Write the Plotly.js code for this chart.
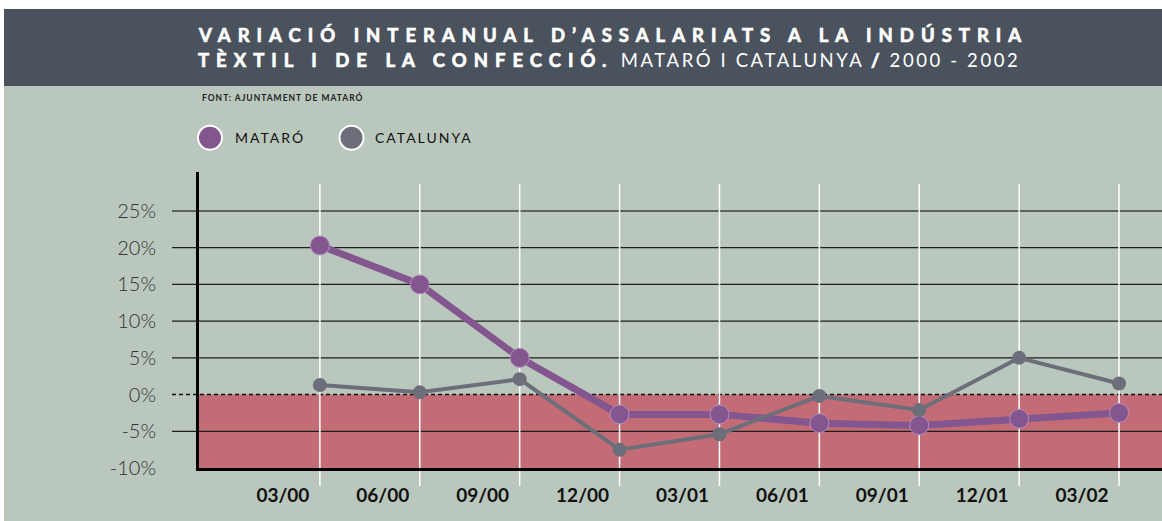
<!DOCTYPE html>
<html>
<head>
<meta charset="utf-8">
<script src="https://cdn.plot.ly/plotly-3.0.1.min.js"></script>
<style>
  html, body { margin: 0; padding: 0; background: #ffffff; }
  #chart { width: 1162px; height: 521px; }
</style>
</head>
<body>
<div id="chart"></div>
<script>
// ---- data ----
const dates = ['03/00', '06/00', '09/00', '12/00', '03/01', '06/01', '09/01', '12/01', '03/02'];
const mataro = [20.3, 15.0, 5.0, -2.7, -2.7, -3.9, -4.2, -3.3, -2.5];
const catalunya = [1.3, 0.3, 2.1, -7.5, -5.4, -0.2, -2.1, 5.0, 1.5];
const yTicks = [-10, -5, 0, 5, 10, 15, 20, 25];
const yTickText = ['-10%', '-5%', '0%', '5%', '10%', '15%', '20%', '25%'];
const seriesNames = ['MATARÓ', 'CATALUNYA'];

// ---- layout geometry (pixels) ----
const W = 1162, H = 521;
const M = { l: 199, r: 0, t: 172, b: 53 };
const PW = W - M.l - M.r, PH = H - M.t - M.b;
const px2x = px => (px - M.l) / PW;
const py2y = py => (H - M.b - py) / PH;

const C = {
  sage: '#b9c7bc', header: '#4a535d', red: '#c46c76',
  purple: '#83568f', gray: '#6c6f79', grid: '#1e1e1e'
};

const shapes = [];
// backgrounds
shapes.push({ type: 'rect', xref: 'paper', yref: 'paper', x0: px2x(4), x1: px2x(W), y0: py2y(H), y1: py2y(86), fillcolor: C.sage, line: { width: 0 }, layer: 'below' });
shapes.push({ type: 'rect', xref: 'paper', yref: 'paper', x0: px2x(4), x1: px2x(W), y0: py2y(86), y1: py2y(9), fillcolor: C.header, line: { width: 0 }, layer: 'below' });
// negative zone
shapes.push({ type: 'rect', xref: 'paper', yref: 'y', x0: 0, x1: 1, y0: yTicks[0], y1: 0, fillcolor: C.red, line: { width: 0 }, layer: 'below' });
// horizontal grid lines (extend left of the axis)
yTicks.forEach(v => {
  if (v === 0 || v === yTicks[0]) return;
  shapes.push({ type: 'line', xref: 'paper', yref: 'y', x0: px2x(172), x1: 1, y0: v, y1: v,
    line: { color: v === yTicks[yTicks.length - 1] ? '#3c423d' : C.grid, width: v === yTicks[yTicks.length - 1] ? 1.6 : 1.2 }, layer: 'below' });
});
// dashed zero line
shapes.push({ type: 'line', xref: 'paper', yref: 'y', x0: px2x(172), x1: 1, y0: 0, y1: 0, line: { color: '#111', width: 1.6, dash: '4px,3px' }, layer: 'below' });
// white vertical lines at each period
dates.forEach((d, i) => {
  shapes.push({ type: 'line', xref: 'x', yref: 'paper', x0: i, x1: i, y0: py2y(486), y1: py2y(184), line: { color: '#ffffff', width: 1.5 }, layer: 'below' });
});
// legend circles
[[210, C.purple], [351.5, C.gray]].forEach(([cx, col]) => {
  shapes.push({ type: 'circle', xref: 'paper', yref: 'paper', xsizemode: 'pixel', ysizemode: 'pixel',
    xanchor: px2x(cx), yanchor: py2y(137.7), x0: -12, x1: 12, y0: -12, y1: 12,
    fillcolor: col, line: { color: '#ffffff', width: 2 }, layer: 'above' });
});

const heavy = 'letter-spacing:7px;stroke:#ffffff;stroke-width:0.7px';
const annotations = [
  { xref: 'paper', yref: 'paper', x: px2x(196), y: py2y(35), xanchor: 'left', yanchor: 'middle', showarrow: false,
    text: '<span style="' + heavy + '"><b>VARIACIÓ INTERANUAL D’ASSALARIATS A LA INDÚSTRIA</b></span>',
    font: { family: 'Lato, "Open Sans", sans-serif', size: 18.5, color: '#ffffff' } },
  { xref: 'paper', yref: 'paper', x: px2x(196), y: py2y(60.5), xanchor: 'left', yanchor: 'middle', showarrow: false,
    text: '<span style="' + heavy + '"><b>TÈXTIL I DE LA CONFECCIÓ.</b></span><span style="letter-spacing:2.6px"> MATARÓ I CATALUNYA <b style="stroke:#ffffff;stroke-width:0.7px">/</b> 2000 - 2002</span>',
    font: { family: 'Lato, "Open Sans", sans-serif', size: 18.5, color: '#ffffff' } },
  { xref: 'paper', yref: 'paper', x: px2x(200), y: py2y(97.5), xanchor: 'left', yanchor: 'middle', showarrow: false,
    text: '<span style="letter-spacing:1px">FONT: AJUNTAMENT DE MATARÓ</span>',
    font: { family: 'Lato, "Open Sans", sans-serif', size: 8.5, color: '#222222', weight: 700 } },
  { xref: 'paper', yref: 'paper', x: px2x(232.5), y: py2y(137.7), xanchor: 'left', yanchor: 'middle', showarrow: false,
    text: '<span style="letter-spacing:2px">' + seriesNames[0] + '</span>',
    font: { family: 'Lato, "Open Sans", sans-serif', size: 14, color: '#111111' } },
  { xref: 'paper', yref: 'paper', x: px2x(372.5), y: py2y(137.7), xanchor: 'left', yanchor: 'middle', showarrow: false,
    text: '<span style="letter-spacing:2px">' + seriesNames[1] + '</span>',
    font: { family: 'Lato, "Open Sans", sans-serif', size: 14, color: '#111111' } }
];

const traces = [
  { type: 'scatter', mode: 'lines+markers', name: seriesNames[0], x: dates, y: mataro,
    line: { color: C.purple, width: 7 },
    marker: { color: C.purple, size: 19, line: { color: '#b48cbc', width: 1 } }, cliponaxis: false },
  { type: 'scatter', mode: 'lines+markers', name: seriesNames[1], x: dates, y: catalunya,
    line: { color: C.gray, width: 4 },
    marker: { color: C.gray, size: 14 }, cliponaxis: false }
];

const layout = {
  width: W, height: H,
  margin: M,
  paper_bgcolor: '#ffffff', plot_bgcolor: 'rgba(0,0,0,0)',
  showlegend: false,
  xaxis: {
    type: 'category', range: [-1.21, 8.43], fixedrange: true,
    showgrid: false, zeroline: false, ticks: '',
    showline: true, linecolor: '#000000', linewidth: 3,
    ticklabelshift: -37, ticklabelstandoff: 8,
    tickfont: { family: 'Lato, "Open Sans", sans-serif', size: 19, color: '#111111', weight: 700 }
  },
  yaxis: {
    range: [-10, 30.3], fixedrange: true,
    tickvals: yTicks, ticktext: yTickText,
    showgrid: false, zeroline: false, ticks: '',
    showline: true, linecolor: '#000000', linewidth: 3,
    ticklabelstandoff: 36,
    tickfont: { family: 'Lato, "Open Sans", sans-serif', size: 20, color: '#333333', weight: 300 }
  },
  shapes: shapes,
  annotations: annotations
};

Plotly.newPlot('chart', traces, layout, { displayModeBar: false, staticPlot: true });
</script>
</body>
</html>
